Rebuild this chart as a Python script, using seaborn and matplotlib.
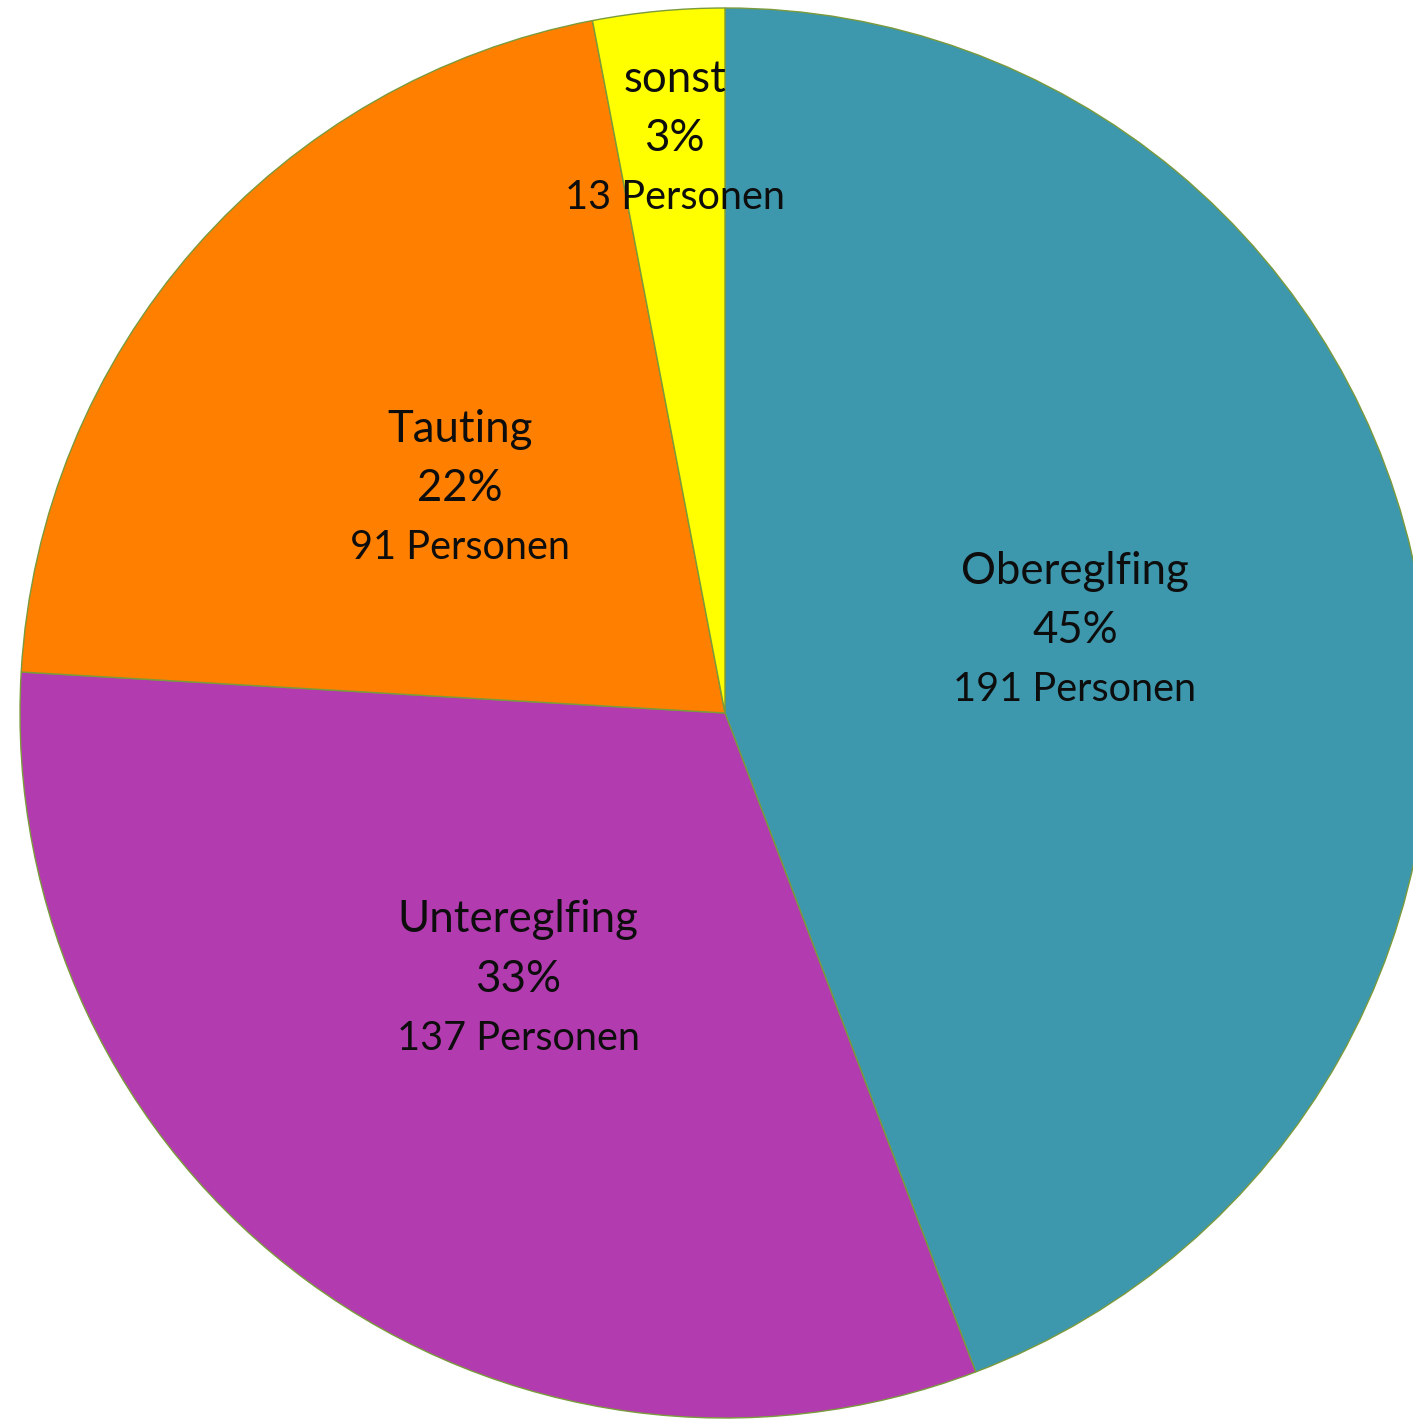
import numpy as np
import matplotlib
matplotlib.use("Agg")
import matplotlib.pyplot as plt
import seaborn as sns

sns.set_theme(style="white")
plt.rcParams['font.family'] = ['Lato', 'DejaVu Sans']

categories = ["Obereglfing", "Untereglfing", "Tauting", "sonst"]
counts = [191, 137, 91, 13]
percents = [45, 33, 22, 3]
colors = ["#3D97AD", "#B23BAF", "#FF7F00", "#FFFF00"]
label_radius = [0.511, 0.474, 0.496, 0.823]
label_nudge_deg = [3.4, -2.0, 0.55, -0.45]

fig = plt.figure(figsize=(14.13, 14.20), dpi=100)
ax = fig.add_axes([0, 0, 1, 1])

wedges, _ = ax.pie(counts, colors=colors, startangle=90, counterclock=False,
                   radius=1.0, center=(0, 0),
                   wedgeprops=dict(edgecolor="#7A9A3C", linewidth=1.0))

scale = 705.0
ax.set_xlim(-725 / scale, (1413 - 725) / scale)
ax.set_ylim(-(1420 - 713) / scale, 713 / scale)
ax.set_aspect('auto')
ax.axis('off')

step = 42.8  # points between label lines
for w, cat, pct, n, r, nd in zip(wedges, categories, percents, counts,
                                  label_radius, label_nudge_deg):
    mid = np.deg2rad((w.theta1 + w.theta2) / 2 + nd)
    x, y = r * np.cos(mid), r * np.sin(mid)
    lines = [(cat, step, 31.5), (f"{pct}%", 0, 31.5), (f"{n} Personen", -step, 28.5)]
    for txt, dy, fs in lines:
        ax.annotate(txt, xy=(x, y), xytext=(0, dy), textcoords="offset points",
                    ha="center", va="center_baseline", fontsize=fs, color="#0d0d0d")

fig.savefig("out.png", dpi=100, facecolor="white")
